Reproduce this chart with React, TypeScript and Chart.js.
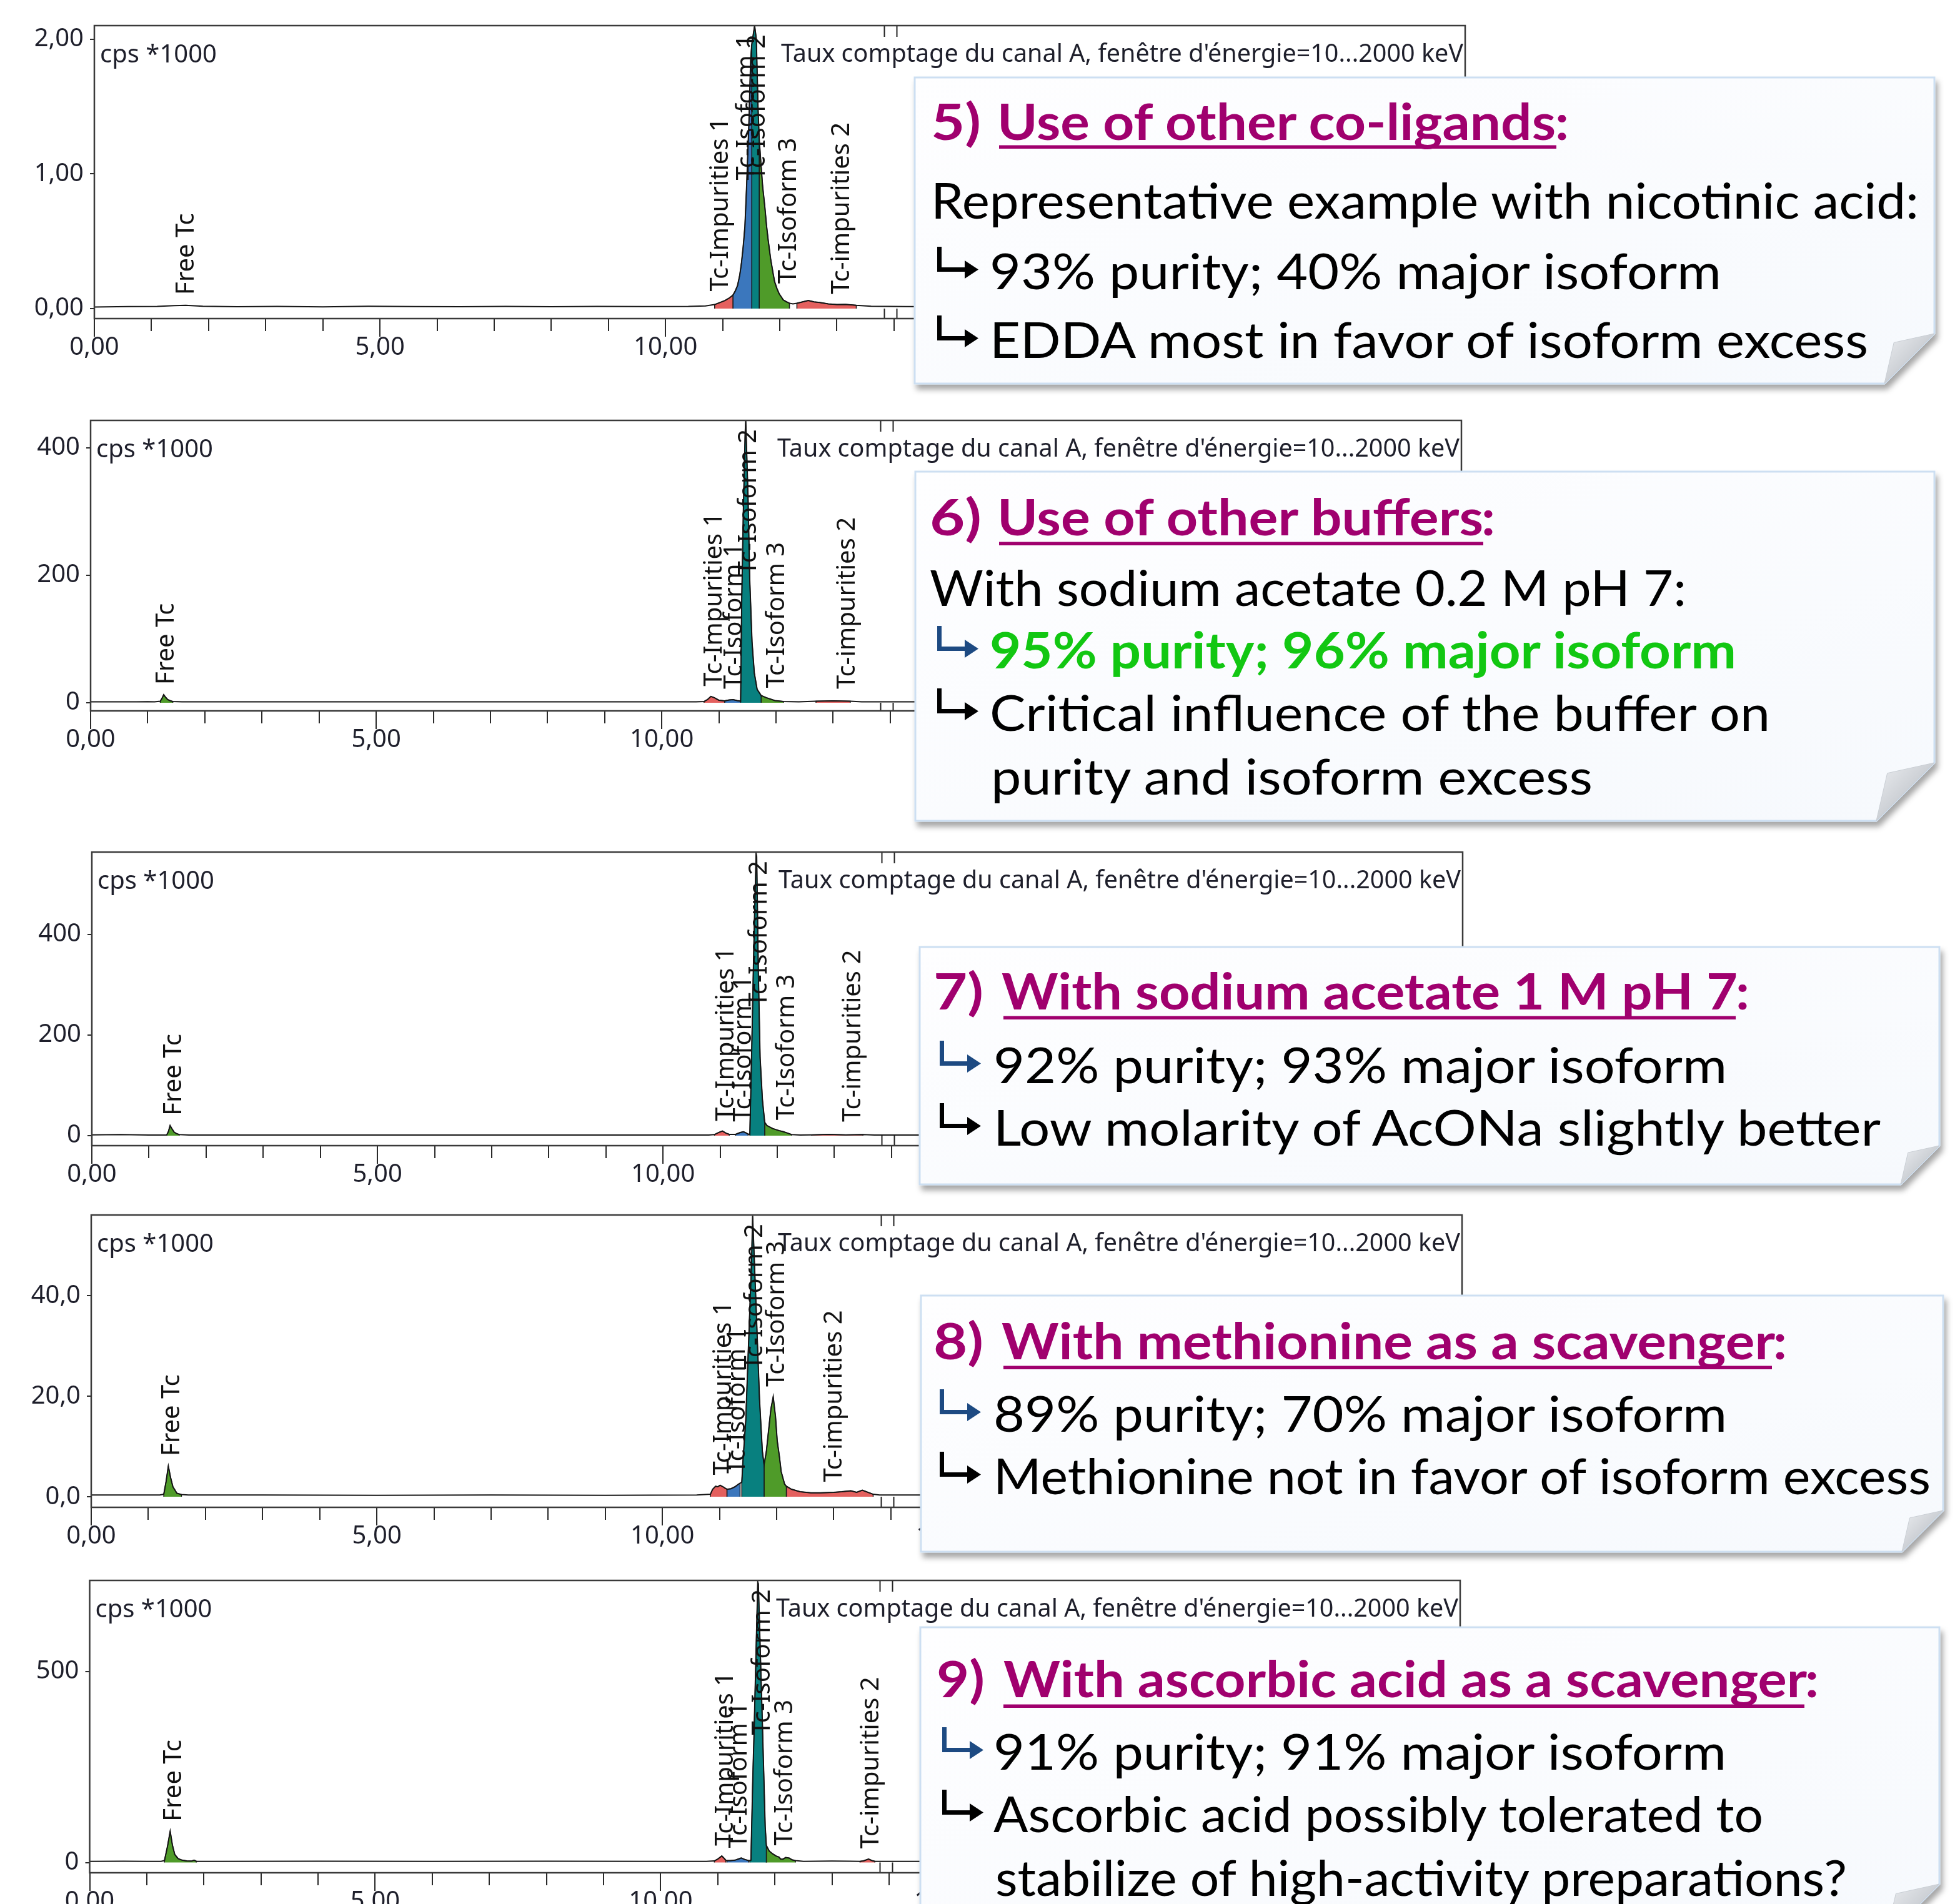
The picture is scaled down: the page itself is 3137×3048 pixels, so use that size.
import React, { useEffect, useRef } from "react";
import { Chart, registerables } from "chart.js";

Chart.register(...registerables);

type Pt = [number, number];
type Region = [number, number, string];

// ---------------- axis ticks ----------------
const xMajorTicks = [0, 5, 10, 15, 20];
const xMinorTicks = [0, 1, 2, 3, 4, 5, 6, 7, 8, 9, 10, 11, 12, 13, 14, 15, 16, 17, 18, 19, 20, 21, 22, 23, 24];
const markerTimes = [13.83, 14.05];
const peakNames = ["Free Tc", "Tc-Impurities 1", "Tc-Isoform 1", "Tc-Isoform 2", "Tc-Isoform 3", "Tc-impurities 2"];
const unitLabel = "cps *1000";
const channelLabel = "Taux comptage du canal A, fenêtre d'énergie=10...2000 keV";

// ---------------- panel 5) co-ligands ----------------
const yTicks1 = [0, 1, 2];
const trace1: Pt[] = [
  [0, 0.012], [0.6, 0.015], [1.1, 0.016], [1.4, 0.022], [1.6, 0.024], [1.9, 0.018], [2.5, 0.014], [3.2, 0.016],
  [4.0, 0.013], [4.8, 0.017], [5.6, 0.015], [6.4, 0.014], [7.2, 0.016], [8.0, 0.014], [8.8, 0.016], [9.6, 0.015],
  [10.4, 0.016], [10.7, 0.02], [10.86, 0.03], [10.95, 0.045], [11.04, 0.06], [11.12, 0.08], [11.18, 0.1],
  [11.22, 0.13], [11.26, 0.17], [11.3, 0.25], [11.33, 0.34], [11.36, 0.46], [11.39, 0.61], [11.42, 0.91],
  [11.46, 1.38], [11.49, 1.84], [11.51, 1.96], [11.56, 2.1], [11.59, 2.0], [11.62, 1.49], [11.64, 1.26],
  [11.67, 1.08], [11.7, 0.91], [11.74, 0.75], [11.77, 0.61], [11.8, 0.5], [11.84, 0.37], [11.88, 0.27],
  [11.91, 0.2], [11.95, 0.15], [11.99, 0.11], [12.03, 0.085], [12.06, 0.065], [12.12, 0.05], [12.17, 0.04],
  [12.23, 0.035], [12.3, 0.04], [12.4, 0.05], [12.5, 0.06], [12.6, 0.05], [12.7, 0.045], [12.85, 0.035],
  [13.0, 0.03], [13.15, 0.032], [13.34, 0.025], [13.6, 0.018], [14.2, 0.015], [15, 0.014], [16, 0.016],
  [17, 0.013], [18, 0.015], [19, 0.014], [20, 0.016], [21, 0.013], [22, 0.015], [23, 0.014], [24, 0.015],
];
const regions1: Region[] = [[10.86, 11.18, "red"], [11.18, 11.51, "blue"], [11.51, 11.64, "teal"], [11.64, 12.17, "green"], [12.3, 13.34, "red"]];
const peakTimes1 = [1.55, 10.9, 11.36, 11.55, 12.09, 13.02];

// ---------------- panel 6) buffers ----------------
const yTicks2 = [0, 200, 400];
const trace2: Pt[] = [
  [0, 1.5], [0.8, 1.4], [1.0, 1.8], [1.12, 1.6], [1.22, 2.5], [1.25, 7], [1.28, 12.7], [1.31, 9], [1.35, 5],
  [1.4, 3], [1.44, 2], [1.6, 1.6], [2.5, 1.5], [4, 1.4], [6, 1.5], [8, 1.4], [10, 1.5], [10.6, 1.5],
  [10.74, 2], [10.8, 5], [10.86, 10], [10.92, 8], [11.0, 4], [11.1, 3], [11.18, 4.5], [11.25, 5], [11.32, 3.5],
  [11.38, 2.5], [11.4, 162], [11.43, 309], [11.46, 423], [11.47, 443], [11.51, 325], [11.54, 194], [11.58, 96],
  [11.62, 47], [11.67, 21], [11.74, 11.4], [11.83, 8], [11.98, 3.5], [12.13, 2], [12.4, 1.5], [12.7, 2.5],
  [13.0, 3], [13.3, 2.5], [13.5, 1.5], [15, 1.4], [17, 1.5], [19, 1.4], [21, 1.5], [24, 1.5],
];
const regions2: Region[] = [[1.22, 1.44, "green"], [10.74, 11.1, "red"], [11.1, 11.38, "blue"], [11.38, 11.74, "teal"], [11.74, 12.13, "green"], [12.7, 13.3, "red"]];
const peakTimes2 = [1.27, 10.86, 11.21, 11.46, 11.95, 13.19];

// ---------------- panel 7) acetate 1 M ----------------
const yTicks3 = [0, 200, 400];
const trace3: Pt[] = [
  [0, 1.5], [0.5, 2], [1.0, 1.2], [1.2, 1], [1.31, 1.2], [1.34, 8], [1.37, 20], [1.4, 14], [1.44, 7], [1.48, 4],
  [1.53, 2], [1.7, 1.2], [3, 1], [5, 1.1], [7, 1], [9, 1.1], [10.8, 1], [10.9, 2], [10.97, 6], [11.04, 9],
  [11.1, 5], [11.16, 2.5], [11.27, 2.5], [11.35, 6], [11.41, 7.5], [11.46, 5], [11.49, 3], [11.52, 2],
  [11.55, 155], [11.595, 403], [11.63, 561], [11.64, 555], [11.67, 320], [11.7, 155], [11.74, 72], [11.78, 26.5],
  [11.82, 20], [11.92, 14], [12.03, 10], [12.1, 8], [12.18, 5], [12.25, 2], [12.4, 1.2], [12.6, 1.5],
  [12.9, 2.5], [13.2, 1.5], [13.5, 2], [13.7, 1], [16, 1.1], [20, 1], [24, 1],
];
const regions3: Region[] = [[1.31, 1.53, "green"], [10.9, 11.16, "red"], [11.27, 11.49, "blue"], [11.52, 11.78, "teal"], [11.78, 12.25, "green"], [12.6, 13.5, "red"]];
const peakTimes3 = [1.37, 11.04, 11.35, 11.62, 12.11, 13.26];

// ---------------- panel 8) methionine ----------------
const yTicks4 = [0, 20, 40];
const trace4: Pt[] = [
  [0, 0.35], [1, 0.35], [1.2, 0.35], [1.27, 0.5], [1.31, 3], [1.35, 6.1], [1.39, 3.8], [1.43, 2.0], [1.5, 0.7],
  [1.58, 0.45], [1.7, 0.35], [3, 0.35], [5, 0.3], [7, 0.35], [9, 0.3], [10.6, 0.35], [10.84, 0.5], [10.88, 1.5],
  [10.93, 2.1], [10.97, 2.0], [11.01, 2.3], [11.06, 2.0], [11.1, 1.7], [11.13, 1.5], [11.2, 1.6], [11.27, 2.0],
  [11.33, 2.5], [11.36, 2.7], [11.39, 2.9], [11.41, 7.06], [11.46, 15.3], [11.5, 27.8], [11.54, 40.2],
  [11.56, 46.4], [11.58, 55.9], [11.6, 50], [11.64, 38.1], [11.7, 19.5], [11.75, 9.1], [11.78, 6.4], [11.82, 9],
  [11.86, 13.3], [11.9, 17.5], [11.94, 19.9], [11.98, 16], [12.01, 11.2], [12.05, 7.9], [12.08, 5.0],
  [12.14, 2.5], [12.17, 2.1], [12.26, 1.5], [12.41, 1.0], [12.6, 0.8], [12.77, 0.8], [13.0, 0.9], [13.14, 1.0],
  [13.3, 1.2], [13.4, 0.9], [13.5, 1.3], [13.69, 0.5], [13.8, 0.35], [16, 0.35], [20, 0.3], [24, 0.35],
];
const regions4: Region[] = [[1.27, 1.58, "green"], [10.84, 11.13, "red"], [11.13, 11.36, "blue"], [11.39, 11.78, "teal"], [11.78, 12.17, "green"], [12.17, 13.69, "red"]];
const peakTimes4 = [1.35, 11.01, 11.25, 11.56, 11.94, 12.95];

// ---------------- panel 9) ascorbic acid ----------------
const yTicks5 = [0, 500];
const trace5: Pt[] = [
  [0, 3], [0.6, 3.2], [1.0, 3], [1.25, 3], [1.31, 5], [1.36, 40], [1.41, 81.6], [1.45, 45], [1.49, 21],
  [1.55, 10], [1.62, 6], [1.7, 4], [1.78, 3.5], [1.83, 6], [1.87, 3], [2.2, 3], [4, 3.2], [6, 3], [8, 3.2],
  [10, 3], [10.8, 3], [10.94, 4], [11.0, 9], [11.07, 17], [11.11, 11], [11.14, 6], [11.16, 5], [11.22, 5],
  [11.3, 6], [11.36, 9], [11.41, 11.6], [11.47, 8], [11.54, 5], [11.56, 5], [11.58, 6], [11.61, 204],
  [11.64, 369], [11.67, 555], [11.7, 735], [11.71, 730], [11.78, 369], [11.83, 94], [11.85, 44.6], [11.9, 30],
  [11.96, 22.6], [12.02, 17], [12.07, 14.3], [12.1, 9], [12.14, 8.8], [12.19, 13], [12.25, 11.6], [12.3, 7],
  [12.36, 4.9], [12.5, 3], [13.0, 3.5], [13.3, 3.2], [13.49, 3], [13.55, 4], [13.64, 8.8], [13.7, 5],
  [13.75, 3], [15, 3], [18, 3.2], [21, 3], [24, 3],
];
const regions5: Region[] = [[1.31, 1.87, "green"], [10.94, 11.14, "red"], [11.16, 11.54, "blue"], [11.56, 11.85, "teal"], [11.85, 12.36, "green"], [13.49, 13.75, "red"]];
const peakTimes5 = [1.41, 11.07, 11.32, 11.72, 12.11, 13.62];

// ---------------- styling / layout ----------------
const FILL: Record<string, string> = { red: "#e4605e", blue: "#3b77bd", teal: "#08807f", green: "#4f9b29" };
const PAD_TOP = 40;
const PAD_RIGHT = 20;
const X_AXIS_H = 70;
const PX_PER_MIN = 91.4;
const X_MAX = 24;
const LABEL_WINDOW = 0.1;
const FONT = "'Noto Sans', 'DejaVu Sans', sans-serif";
const INK = "#1e1f2b";

interface PanelCfg {
  top: number; left: number; bottom: number; yMin: number; yMax: number; dec: number;
  yTicks: number[]; trace: Pt[]; regions: Region[]; peakTimes: number[];
}

const panels: PanelCfg[] = [
  { top: 41, left: 151, bottom: 510, yMin: -0.074, yMax: 2.1, dec: 2, yTicks: yTicks1, trace: trace1, regions: regions1, peakTimes: peakTimes1 },
  { top: 673, left: 145, bottom: 1138, yMin: -12.7, yMax: 443, dec: 0, yTicks: yTicks2, trace: trace2, regions: regions2, peakTimes: peakTimes2 },
  { top: 1364, left: 147, bottom: 1834, yMin: -20, yMax: 564, dec: 0, yTicks: yTicks3, trace: trace3, regions: regions3, peakTimes: peakTimes3 },
  { top: 1945, left: 146, bottom: 2413, yMin: -2.1, yMax: 56.1, dec: 1, yTicks: yTicks4, trace: trace4, regions: regions4, peakTimes: peakTimes4 },
  { top: 2530, left: 143.5, bottom: 2998, yMin: -27, yMax: 739, dec: 0, yTicks: yTicks5, trace: trace5, regions: regions5, peakTimes: peakTimes5 },
];

function fmt(v: number, dec: number) {
  return v.toFixed(dec).replace(".", ",");
}

function valueAt(trace: Pt[], t: number) {
  for (let i = 1; i < trace.length; i++) {
    const [x0, y0] = trace[i - 1];
    const [x1, y1] = trace[i];
    if (t >= x0 && t <= x1) return x1 === x0 ? y1 : y0 + ((y1 - y0) * (t - x0)) / (x1 - x0);
  }
  return 0;
}

// highest point of the trace around a label time (label sits above it)
function peakNear(trace: Pt[], t: number) {
  let m = Math.max(valueAt(trace, t - LABEL_WINDOW), valueAt(trace, t), valueAt(trace, t + LABEL_WINDOW));
  trace.forEach(([x, y]) => {
    if (x >= t - LABEL_WINDOW && x <= t + LABEL_WINDOW && y > m) m = y;
  });
  return m;
}

function Panel({ cfg }: { cfg: PanelCfg }) {
  const ref = useRef<HTMLCanvasElement | null>(null);
  const width = Math.round(cfg.left + X_MAX * PX_PER_MIN) + PAD_RIGHT;
  const height = Math.round(cfg.bottom - cfg.top) + PAD_TOP + X_AXIS_H;

  useEffect(() => {
    const canvas = ref.current;
    if (!canvas) return;
    const datasets: any[] = [
      {
        data: cfg.trace.map(([x, y]) => ({ x, y })),
        borderColor: "#151515", borderWidth: 2, pointRadius: 0, fill: false, tension: 0, order: 0,
      },
    ];
    cfg.regions.forEach(([from, to, kind]) => {
      const inner = cfg.trace.filter(([x]) => x >= from && x <= to).map(([x, y]) => ({ x, y }));
      datasets.push({
        data: [{ x: from, y: 0 }, ...inner, { x: to, y: 0 }],
        borderColor: "#1a1a1a", borderWidth: 1.5, backgroundColor: FILL[kind],
        fill: "origin", pointRadius: 0, tension: 0, order: 1,
      });
    });

    const annot = {
      id: "annot",
      afterDatasetsDraw(chart: any) {
        const { ctx, chartArea: a, scales } = chart;
        const xs = scales.x;
        const ys = scales.y;
        const zero = ys.getPixelForValue(0);
        ctx.save();
        // integration markers
        ctx.strokeStyle = "#222";
        ctx.lineWidth = 2;
        markerTimes.forEach((t) => {
          const px = Math.round(xs.getPixelForValue(t)) + 0.5;
          ctx.beginPath();
          ctx.moveTo(px, a.top);
          ctx.lineTo(px, a.top + 18);
          ctx.moveTo(px, zero);
          ctx.lineTo(px, a.bottom);
          ctx.stroke();
        });
        // frame
        ctx.lineWidth = 2.5;
        ctx.strokeStyle = "#3a3a3a";
        ctx.strokeRect(a.left, a.top, a.right - a.left, a.bottom - a.top);
        // header texts
        ctx.fillStyle = INK;
        ctx.font = `40px ${FONT}`;
        ctx.textBaseline = "alphabetic";
        ctx.textAlign = "left";
        ctx.fillText(unitLabel, a.left + 9, a.top + 59);
        ctx.textAlign = "right";
        ctx.fillText(channelLabel, a.right - 3, a.top + 58, 1092);
        // peak labels
        ctx.fillStyle = "#111";
        ctx.textAlign = "left";
        ctx.textBaseline = "middle";
        peakNames.forEach((name, i) => {
          const t = cfg.peakTimes[i];
          const v = peakNear(cfg.trace, t);
          const px = xs.getPixelForValue(t) + 6;
          const w = ctx.measureText(name).width;
          let bottom = Math.min(ys.getPixelForValue(v) - 16, zero - 22);
          if (bottom - w < a.top + 14) bottom = a.top + 14 + w;
          ctx.save();
          ctx.translate(px, bottom);
          ctx.rotate(-Math.PI / 2);
          ctx.fillText(name, 0, 0);
          ctx.restore();
        });
        ctx.restore();
      },
    };

    const tickFont = { family: FONT, size: 40, lineHeight: 1 };
    const chart = new Chart(canvas, {
      type: "line",
      data: { datasets },
      options: {
        animation: false,
        responsive: false,
        maintainAspectRatio: false,
        devicePixelRatio: 1,
        events: [],
        layout: { padding: { left: 0, top: PAD_TOP, right: PAD_RIGHT, bottom: 0 } },
        plugins: { legend: { display: false }, tooltip: { enabled: false } },
        scales: {
          xm: {
            type: "linear", position: "bottom", min: 0, max: X_MAX, weight: 0,
            afterBuildTicks: (s: any) => { s.ticks = xMinorTicks.map((value) => ({ value })); },
            afterFit: (s: any) => { s.height = 0; },
            grid: { drawOnChartArea: false, drawTicks: true, tickLength: 20, color: "#2a2a2a", lineWidth: 2 },
            border: { display: false },
            ticks: { display: false },
          },
          x: {
            type: "linear", position: "bottom", min: 0, max: X_MAX, weight: 1,
            afterBuildTicks: (s: any) => { s.ticks = xMajorTicks.map((value) => ({ value })); },
            afterFit: (s: any) => { s.height = X_AXIS_H; },
            grid: { drawOnChartArea: false, drawTicks: true, tickLength: 29, color: "#2a2a2a", lineWidth: 2 },
            border: { display: false },
            ticks: { autoSkip: false, maxRotation: 0, padding: -2, color: INK, font: tickFont, callback: (v: any) => fmt(Number(v), 2) },
          },
          y: {
            type: "linear", position: "left", min: cfg.yMin, max: cfg.yMax,
            afterBuildTicks: (s: any) => { s.ticks = cfg.yTicks.map((value) => ({ value })); },
            afterFit: (s: any) => { s.width = cfg.left; },
            grid: { drawOnChartArea: false, drawTicks: true, tickLength: 7, color: "#2a2a2a", lineWidth: 2 },
            border: { display: false },
            ticks: { autoSkip: false, padding: 10, color: INK, font: tickFont, callback: (v: any) => fmt(Number(v), cfg.dec) },
          },
        },
      } as any,
      plugins: [annot],
    });
    return () => chart.destroy();
  }, [cfg]);

  return (
    <canvas
      ref={ref}
      width={width}
      height={height}
      style={{ position: "absolute", left: 0, top: cfg.top - PAD_TOP, width, height }}
    />
  );
}

// ---------------- note boxes ----------------
const PURPLE = "#a0006e";
const GREEN = "#12c712";
const ABLUE = "#1d4a82";
const BLACK = "#000";

interface RunT { s: string; x: number; y: number; w: number; b?: boolean; c?: string }
interface NoteT { box: [number, number, number, number, number]; runs: RunT[]; underline: [number, number, number]; arrows: [number, number, string][] }

const notes: NoteT[] = [
  {
    box: [1464, 124, 3096, 614, 80],
    runs: [
      { s: "5)", x: 1490, y: 224, w: 80, b: true, c: PURPLE },
      { s: "Use of other co-ligands", x: 1596, y: 224, w: 894, b: true, c: PURPLE },
      { s: ":", x: 2489, y: 224, w: 22, b: true, c: PURPLE },
      { s: "Representative example with nicotinic acid:", x: 1490, y: 350, w: 1581 },
      { s: "93% purity; 40% major isoform", x: 1584, y: 463, w: 1171 },
      { s: "EDDA most in favor of isoform excess", x: 1584, y: 573, w: 1406 },
    ],
    underline: [1599, 2491, 235],
    arrows: [[1500, 463, BLACK], [1500, 573, BLACK]],
  },
  {
    box: [1465, 755, 3096, 1314, 93],
    runs: [
      { s: "6)", x: 1488, y: 857, w: 83, b: true, c: PURPLE },
      { s: "Use of other buffers", x: 1596, y: 857, w: 778, b: true, c: PURPLE },
      { s: ":", x: 2371, y: 857, w: 22, b: true, c: PURPLE },
      { s: "With sodium acetate 0.2 M pH 7:", x: 1488, y: 970, w: 1211 },
      { s: "95% purity; 96% major isoform", x: 1584, y: 1070, w: 1195, b: true, c: GREEN },
      { s: "Critical influence of the buffer on", x: 1584, y: 1170, w: 1249 },
      { s: "purity and isoform excess", x: 1586, y: 1272, w: 963 },
    ],
    underline: [1599, 2374, 870],
    arrows: [[1500, 1070, ABLUE], [1500, 1170, BLACK]],
  },
  {
    box: [1472, 1516, 3104, 1896, 62],
    runs: [
      { s: "7)", x: 1494, y: 1616, w: 80, b: true, c: PURPLE },
      { s: "With sodium acetate 1 M pH 7", x: 1603, y: 1616, w: 1178, b: true, c: PURPLE },
      { s: ":", x: 2778, y: 1616, w: 22, b: true, c: PURPLE },
      { s: "92% purity; 93% major isoform", x: 1590, y: 1734, w: 1174 },
      { s: "Low molarity of AcONa slightly better", x: 1590, y: 1834, w: 1420 },
    ],
    underline: [1606, 2778, 1629],
    arrows: [[1504, 1734, ABLUE], [1504, 1834, BLACK]],
  },
  {
    box: [1474, 2074, 3110, 2484, 66],
    runs: [
      { s: "8)", x: 1494, y: 2176, w: 80, b: true, c: PURPLE },
      { s: "With methionine as a scavenger", x: 1603, y: 2176, w: 1238, b: true, c: PURPLE },
      { s: ":", x: 2838, y: 2176, w: 22, b: true, c: PURPLE },
      { s: "89% purity; 70% major isoform", x: 1590, y: 2292, w: 1174 },
      { s: "Methionine not in favor of isoform excess", x: 1590, y: 2392, w: 1500 },
    ],
    underline: [1606, 2836, 2189],
    arrows: [[1504, 2292, ABLUE], [1504, 2392, BLACK]],
  },
  {
    box: [1473, 2605, 3104, 3102, 86],
    runs: [
      { s: "9)", x: 1499, y: 2717, w: 77, b: true, c: PURPLE },
      { s: "With ascorbic acid as a scavenger", x: 1606, y: 2717, w: 1286, b: true, c: PURPLE },
      { s: ":", x: 2889, y: 2717, w: 22, b: true, c: PURPLE },
      { s: "91% purity; 91% major isoform", x: 1590, y: 2833, w: 1173 },
      { s: "Ascorbic acid possibly tolerated to", x: 1590, y: 2933, w: 1232 },
      { s: "stabilize of high-activity preparations?", x: 1593, y: 3035, w: 1363 },
    ],
    underline: [1606, 2888, 2731],
    arrows: [[1508, 2833, ABLUE], [1508, 2933, BLACK]],
  },
];

function arrowPath(ax: number, b: number) {
  return (
    `M${ax},${b - 68} L${ax + 7},${b - 68} L${ax + 7},${b - 35} L${ax + 44},${b - 35} L${ax + 44},${b - 46} ` +
    `L${ax + 66},${b - 31.5} L${ax + 44},${b - 17} L${ax + 44},${b - 28} L${ax},${b - 28} Z`
  );
}

function Notes() {
  return (
    <svg width={3137} height={3048} style={{ position: "absolute", left: 0, top: 0 }}>
      <defs>
        <filter id="nsh" x="-3%" y="-5%" width="108%" height="118%">
          <feDropShadow dx="4" dy="8" stdDeviation="5" floodColor="#000" floodOpacity="0.35" />
        </filter>
        <linearGradient id="nbg" x1="0" y1="0" x2="1" y2="1">
          <stop offset="0" stopColor="#fefeff" />
          <stop offset="1" stopColor="#f6f9fd" />
        </linearGradient>
        <linearGradient id="nfold" x1="0" y1="0" x2="1" y2="1">
          <stop offset="0" stopColor="#eceef1" />
          <stop offset="1" stopColor="#aeb3ba" />
        </linearGradient>
      </defs>
      {notes.map((n, i) => {
        const [l, t, r, b, f] = n.box;
        const page = `${l},${t} ${r},${t} ${r},${b - f} ${r - f},${b} ${l},${b}`;
        const fold = `${r},${b - f} ${r - 0.81 * f},${b - 0.82 * f} ${r - f},${b}`;
        return (
          <g key={i}>
            <polygon points={page} fill="url(#nbg)" stroke="#cddff2" strokeWidth={3} filter="url(#nsh)" />
            <polygon points={fold} fill="url(#nfold)" stroke="#c9ced4" strokeWidth={1} />
            <rect x={n.underline[0]} y={n.underline[2] - 2.5} width={n.underline[1] - n.underline[0]} height={5.5} fill={PURPLE} />
            {n.arrows.map(([ax, ay, c], k) => (
              <path key={k} d={arrowPath(ax, ay)} fill={c} />
            ))}
            {n.runs.map((run, k) => (
              <text
                key={k}
                x={run.x}
                y={run.y}
                textLength={run.w}
                lengthAdjust="spacingAndGlyphs"
                fontFamily="Lato, 'Open Sans', sans-serif"
                fontSize={80}
                fontWeight={run.b ? 700 : 400}
                fill={run.c || BLACK}
              >
                {run.s}
              </text>
            ))}
          </g>
        );
      })}
    </svg>
  );
}

export default function App() {
  return (
    <div style={{ position: "absolute", left: 0, top: 0, width: 3137, height: 3048, overflow: "hidden", background: "#fff" }}>
      {panels.map((p, i) => (
        <Panel key={i} cfg={p} />
      ))}
      <Notes />
    </div>
  );
}
